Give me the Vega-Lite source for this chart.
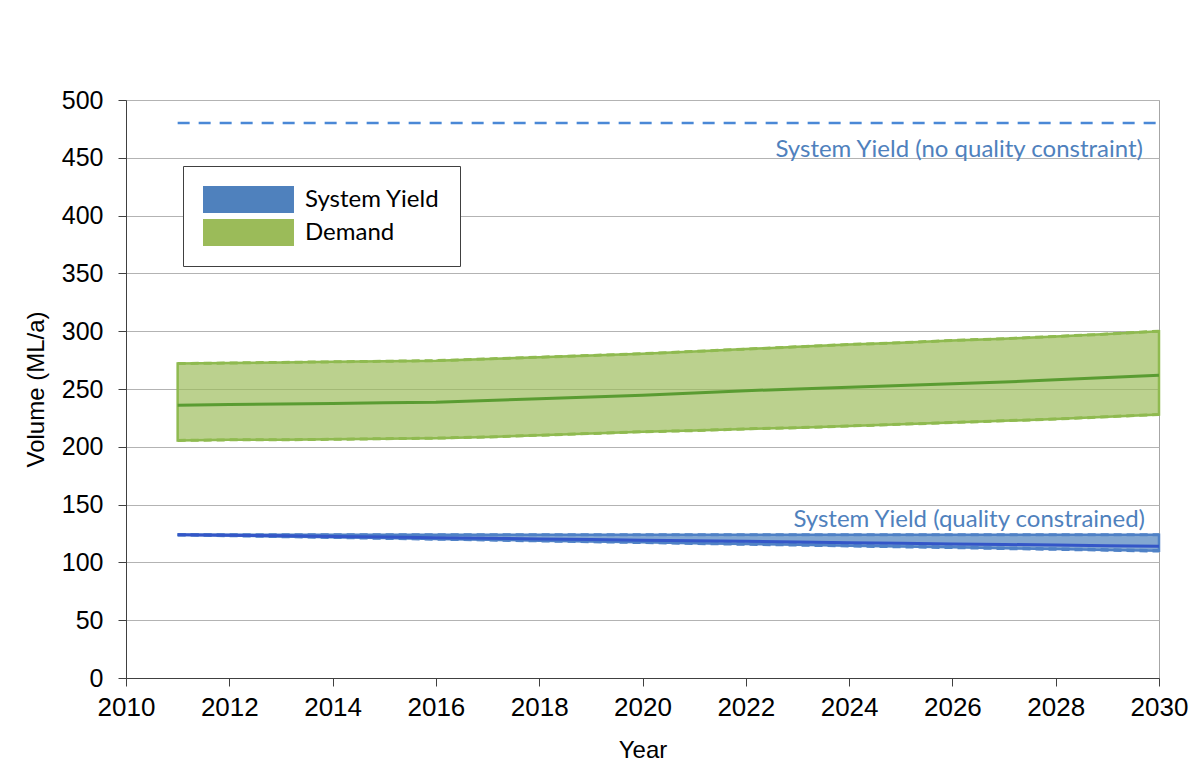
{
  "$schema": "https://vega.github.io/schema/vega-lite/v6.json",
  "width": 1033,
  "height": 578,
  "autosize": {"type": "none"},
  "padding": {"left": 126, "top": 100, "right": 42, "bottom": 101},
  "background": "white",
  "config": {
    "view": {"stroke": "#a6a6a6", "strokeWidth": 1},
    "axis": {
      "labelFont": "Liberation Sans",
      "titleFont": "Liberation Sans",
      "labelColor": "#000000",
      "titleColor": "#000000",
      "titleFontSize": 24,
      "titleFontWeight": "normal",
      "domainColor": "#404040",
      "tickColor": "#404040",
      "tickSize": 8,
      "gridColor": "#b3b3b3"
    },
    "legend": {
      "orient": "none",
      "legendX": 57,
      "legendY": 66,
      "strokeColor": "#404040",
      "fillColor": "#ffffff",
      "padding": 20,
      "labelFont": "Lato",
      "labelFontSize": 24,
      "labelColor": "#000000",
      "labelOffset": 75,
      "rowPadding": 6,
      "symbolType": "M-1,-1H5.74V1H-1Z",
      "symbolSize": 729,
      "symbolOpacity": 1,
      "symbolStrokeWidth": 0
    }
  },
  "datasets": {
    "demand": [
      {"year": 2011, "lo": 205.5, "mid": 236, "hi": 272},
      {"year": 2012, "lo": 206, "mid": 236.5, "hi": 272.5},
      {"year": 2013, "lo": 206, "mid": 237, "hi": 273},
      {"year": 2014, "lo": 206.5, "mid": 237.5, "hi": 273.5},
      {"year": 2015, "lo": 207, "mid": 238, "hi": 274},
      {"year": 2016, "lo": 207.5, "mid": 238.5, "hi": 274.5},
      {"year": 2017, "lo": 208.5, "mid": 240, "hi": 276},
      {"year": 2018, "lo": 210, "mid": 241.5, "hi": 277.5},
      {"year": 2019, "lo": 211.5, "mid": 243, "hi": 279},
      {"year": 2020, "lo": 213, "mid": 244.5, "hi": 280.5},
      {"year": 2021, "lo": 214, "mid": 246.5, "hi": 282.5},
      {"year": 2022, "lo": 215.5, "mid": 248.5, "hi": 284.5},
      {"year": 2023, "lo": 216.5, "mid": 250, "hi": 286.5},
      {"year": 2024, "lo": 218, "mid": 251.5, "hi": 288.5},
      {"year": 2025, "lo": 219.5, "mid": 253, "hi": 290},
      {"year": 2026, "lo": 221, "mid": 254.5, "hi": 292},
      {"year": 2027, "lo": 222.5, "mid": 256, "hi": 293.5},
      {"year": 2028, "lo": 224, "mid": 258, "hi": 295.5},
      {"year": 2029, "lo": 226, "mid": 260, "hi": 297.5},
      {"year": 2030, "lo": 228, "mid": 262, "hi": 300}
    ],
    "yield": [
      {"year": 2011, "lo": 124, "mid": 124, "hi": 124},
      {"year": 2012, "lo": 123.3, "mid": 123.5, "hi": 124},
      {"year": 2013, "lo": 122.5, "mid": 123, "hi": 124},
      {"year": 2014, "lo": 121.8, "mid": 122.4, "hi": 124},
      {"year": 2015, "lo": 121, "mid": 121.9, "hi": 124},
      {"year": 2016, "lo": 120.3, "mid": 121.4, "hi": 124},
      {"year": 2017, "lo": 119.6, "mid": 120.8, "hi": 124},
      {"year": 2018, "lo": 118.8, "mid": 120.3, "hi": 124},
      {"year": 2019, "lo": 118.1, "mid": 119.8, "hi": 124},
      {"year": 2020, "lo": 117.4, "mid": 119.2, "hi": 124},
      {"year": 2021, "lo": 116.6, "mid": 118.7, "hi": 124},
      {"year": 2022, "lo": 115.9, "mid": 118.2, "hi": 124},
      {"year": 2023, "lo": 115.2, "mid": 117.6, "hi": 124},
      {"year": 2024, "lo": 114.4, "mid": 117.1, "hi": 124},
      {"year": 2025, "lo": 113.7, "mid": 116.6, "hi": 124},
      {"year": 2026, "lo": 113, "mid": 116, "hi": 124},
      {"year": 2027, "lo": 112.2, "mid": 115.5, "hi": 124},
      {"year": 2028, "lo": 111.5, "mid": 115, "hi": 124},
      {"year": 2029, "lo": 110.8, "mid": 114.5, "hi": 124},
      {"year": 2030, "lo": 110, "mid": 114, "hi": 124}
    ],
    "unconstrained": [
      {"year": 2011, "volume": 480},
      {"year": 2030, "volume": 480}
    ]
  },
  "encoding": {
    "x": {
      "field": "year",
      "type": "quantitative",
      "title": "Year",
      "scale": {"domain": [2010, 2030], "nice": false, "zero": false},
      "axis": {
        "values": [2010, 2012, 2014, 2016, 2018, 2020, 2022, 2024, 2026, 2028, 2030],
        "format": "d",
        "grid": false,
        "labelFontSize": 26,
        "labelPadding": 8,
        "titlePadding": 18,
        "labelFlush": false
      }
    }
  },
  "layer": [
    {
      "data": {"name": "demand"},
      "mark": {"type": "area", "stroke": "#8fba50", "strokeWidth": 2.5, "fillOpacity": 0.68},
      "encoding": {
        "y": {
          "field": "lo",
          "type": "quantitative",
          "title": "Volume (ML/a)",
          "scale": {"domain": [0, 500], "nice": false},
          "axis": {"values": [0, 50, 100, 150, 200, 250, 300, 350, 400, 450, 500], "grid": true, "labelFontSize": 25, "labelPadding": 15, "titlePadding": 13}
        },
        "y2": {"field": "hi"},
        "color": {
          "datum": "Demand",
          "type": "nominal",
          "scale": {"domain": ["System Yield", "Demand"], "range": ["#4f81bd", "#9bbb59"]},
          "legend": {"title": null}
        }
      }
    },
    {
      "data": {"name": "demand"},
      "mark": {"type": "line", "color": "#8fba50", "strokeWidth": 3, "strokeDash": [8, 5]},
      "encoding": {"y": {"field": "lo", "type": "quantitative"}}
    },
    {
      "data": {"name": "demand"},
      "mark": {"type": "line", "color": "#8fba50", "strokeWidth": 3, "strokeDash": [8, 5]},
      "encoding": {"y": {"field": "hi", "type": "quantitative"}}
    },
    {
      "data": {"name": "demand"},
      "mark": {"type": "line", "color": "#5a9c32", "strokeWidth": 3},
      "encoding": {"y": {"field": "mid", "type": "quantitative"}}
    },
    {
      "data": {"name": "yield"},
      "mark": {"type": "area", "stroke": "#4f81c6", "strokeWidth": 2.5, "fillOpacity": 0.7},
      "encoding": {
        "y": {"field": "lo", "type": "quantitative"},
        "y2": {"field": "hi"},
        "color": {"datum": "System Yield", "type": "nominal"}
      }
    },
    {
      "data": {"name": "yield"},
      "mark": {"type": "line", "color": "#4f81c6", "strokeWidth": 3.5, "strokeDash": [8, 5]},
      "encoding": {"y": {"field": "lo", "type": "quantitative"}}
    },
    {
      "data": {"name": "yield"},
      "mark": {"type": "line", "color": "#4f81c6", "strokeWidth": 3, "strokeDash": [8, 5]},
      "encoding": {"y": {"field": "hi", "type": "quantitative"}}
    },
    {
      "data": {"name": "yield"},
      "mark": {"type": "line", "color": "#3456c8", "strokeWidth": 3},
      "encoding": {"y": {"field": "mid", "type": "quantitative"}}
    },
    {
      "data": {"name": "unconstrained"},
      "mark": {"type": "line", "color": "#4a88d6", "strokeWidth": 2.5, "strokeDash": [12, 9]},
      "encoding": {"y": {"field": "volume", "type": "quantitative"}}
    },
    {
      "data": {"values": [{"year": 2030, "volume": 480, "label": "System Yield (no quality constraint)"}]},
      "mark": {"type": "text", "align": "right", "baseline": "middle", "dx": -16, "dy": 27, "font": "Lato", "fontSize": 24, "color": "#4f81bd"},
      "encoding": {"y": {"field": "volume", "type": "quantitative"}, "text": {"field": "label"}}
    },
    {
      "data": {"values": [{"year": 2030, "volume": 124, "label": "System Yield (quality constrained)"}]},
      "mark": {"type": "text", "align": "right", "baseline": "middle", "dx": -14, "dy": -15, "font": "Lato", "fontSize": 24, "color": "#4f81bd"},
      "encoding": {"y": {"field": "volume", "type": "quantitative"}, "text": {"field": "label"}}
    }
  ]
}
